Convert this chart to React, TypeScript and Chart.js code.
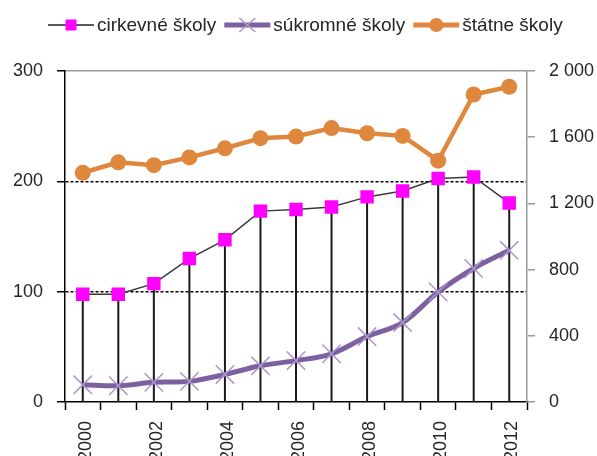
import React, { useEffect, useRef } from 'react';
import { Chart, registerables } from 'chart.js';

Chart.register(...registerables);

const years = ['2000', '2001', '2002', '2003', '2004', '2005', '2006', '2007', '2008', '2009', '2010', '2011', '2012'];
const cirkevne = [97.6, 97.6, 107.3, 130, 147, 173, 174.4, 176.8, 185.9, 191.3, 202.5, 204, 180.4];
const sukromne = [15.6, 14.7, 17.8, 18.7, 25, 32.8, 37.5, 43.7, 59.3, 72, 99.7, 121, 137.5];
const statne = [1385, 1448, 1431, 1478, 1533, 1594, 1604, 1655, 1624, 1608, 1458, 1858, 1905];
const seriesLabels = ['cirkevné školy', 'súkromné školy', 'štátne školy'];
const leftMax = 300;
const leftStep = 100;
const rightMax = 2000;
const rightStep = 400;

const FONT = '"Liberation Sans", Arial, sans-serif';
const MAGENTA = '#FF00FF';
const PURPLE = '#7D60A0';
const PURPLE_LIGHT = '#A996CC';
const ORANGE = '#DF873D';

function fmtThousands(v: number): string {
  if (v >= 1000) {
    const th = Math.floor(v / 1000);
    const rest = String(v % 1000).padStart(3, '0');
    return th + ' ' + rest;
  }
  return String(v);
}

const dropLines = {
  id: 'dropLines',
  beforeDatasetsDraw(chart: any) {
    const meta = chart.getDatasetMeta(0);
    const y0 = chart.scales.y.getPixelForValue(0);
    const ctx = chart.ctx;
    ctx.save();
    ctx.strokeStyle = '#1a1a1a';
    ctx.lineWidth = 2;
    meta.data.forEach((pt: any) => {
      ctx.beginPath();
      ctx.moveTo(pt.x, pt.y);
      ctx.lineTo(pt.x, y0);
      ctx.stroke();
    });
    ctx.restore();
  },
};

const customLegend = {
  id: 'customLegend',
  afterDraw(chart: any) {
    const ctx = chart.ctx;
    const ds = chart.data.datasets;
    const y = 25;
    let x = 48;
    const sampleLen = 46;
    ctx.save();
    ctx.font = '19px ' + FONT;
    ctx.textBaseline = 'middle';
    ds.forEach((d: any, i: number) => {
      const cx = x + sampleLen / 2;
      ctx.beginPath();
      ctx.strokeStyle = i === 0 ? '#222' : d.borderColor;
      ctx.lineWidth = i === 0 ? 1.5 : 5;
      ctx.moveTo(x, y);
      ctx.lineTo(x + sampleLen, y);
      ctx.stroke();
      if (i === 0) {
        ctx.fillStyle = MAGENTA;
        ctx.fillRect(cx - 5.5, y - 5.5, 11, 11);
      } else if (i === 1) {
        ctx.strokeStyle = PURPLE_LIGHT;
        ctx.lineWidth = 1.5;
        ctx.beginPath();
        ctx.moveTo(cx - 8, y - 7);
        ctx.lineTo(cx + 8, y + 7);
        ctx.moveTo(cx - 8, y + 7);
        ctx.lineTo(cx + 8, y - 7);
        ctx.stroke();
      } else {
        ctx.fillStyle = ORANGE;
        ctx.beginPath();
        ctx.arc(cx, y, 7, 0, Math.PI * 2);
        ctx.fill();
      }
      ctx.fillStyle = '#262626';
      const tx = x + sampleLen + 3;
      ctx.fillText(d.label, tx, y + 1);
      x = tx + ctx.measureText(d.label).width + 8;
    });
    ctx.restore();
  },
};

export default function App() {
  const ref = useRef<HTMLCanvasElement | null>(null);

  useEffect(() => {
    if (!ref.current) return;
    Chart.defaults.font.family = FONT;
    const chart = new Chart(ref.current, {
      type: 'line',
      data: {
        labels: years,
        datasets: [
          {
            label: seriesLabels[0],
            data: cirkevne,
            yAxisID: 'y',
            borderColor: '#3a3a3a',
            borderWidth: 1.5,
            pointStyle: 'rect',
            pointRadius: 9.5,
            pointBackgroundColor: MAGENTA,
            pointBorderColor: MAGENTA,
            pointBorderWidth: 0,
            tension: 0,
          },
          {
            label: seriesLabels[1],
            data: sukromne,
            yAxisID: 'y',
            borderColor: PURPLE,
            borderWidth: 5,
            pointStyle: 'crossRot',
            pointRadius: 13,
            pointBorderColor: PURPLE_LIGHT,
            pointBorderWidth: 1.5,
            tension: 0.35,
          },
          {
            label: seriesLabels[2],
            data: statne,
            yAxisID: 'y1',
            borderColor: ORANGE,
            borderWidth: 4.5,
            pointStyle: 'circle',
            pointRadius: 8,
            pointBackgroundColor: ORANGE,
            pointBorderColor: ORANGE,
            pointBorderWidth: 0,
            tension: 0,
          },
        ],
      },
      options: {
        animation: false,
        responsive: true,
        maintainAspectRatio: false,
        devicePixelRatio: 1,
        layout: { padding: { top: 71, left: 0, right: 0, bottom: 0 } },
        plugins: {
          legend: { display: false },
          tooltip: { enabled: false },
        },
        scales: {
          x: {
            type: 'category',
            offset: true,
            afterFit: (s: any) => { s.height = 54; },
            grid: {
              offset: true,
              drawOnChartArea: false,
              drawTicks: true,
              tickLength: 8,
              tickColor: '#000',
              tickWidth: 1.5,
            },
            border: { color: '#000', width: 1.5 },
            ticks: {
              autoSkip: false,
              minRotation: 90,
              maxRotation: 90,
              padding: 11,
              labelOffset: 3,
              color: '#262626',
              font: { size: 18, family: FONT },
              callback: (_v: any, i: number) => (i % 2 === 0 ? years[i] : ''),
            },
          },
          y: {
            position: 'left',
            min: 0,
            max: leftMax,
            afterFit: (s: any) => { s.width = 65; },
            grid: {
              color: (c: any) => (c.tick && (c.tick.value === 100 || c.tick.value === 200) ? '#000' : 'rgba(0,0,0,0)'),
              lineWidth: 1.5,
              tickLength: 8,
              tickColor: '#000',
              tickWidth: 1.5,
            },
            border: { color: '#000', width: 1.5, dash: [3, 2] },
            ticks: {
              stepSize: leftStep,
              padding: 14,
              color: '#262626',
              font: { size: 18, family: FONT },
            },
          },
          y1: {
            position: 'right',
            min: 0,
            max: rightMax,
            afterFit: (s: any) => { s.width = 70; },
            grid: {
              color: (c: any) => (c.tick && c.tick.value === rightMax ? '#9a9a9a' : 'rgba(0,0,0,0)'),
              lineWidth: 1.5,
              tickLength: 8,
              tickColor: '#9a9a9a',
              tickWidth: 1.5,
            },
            border: { color: '#9a9a9a', width: 1.5 },
            ticks: {
              stepSize: rightStep,
              padding: 14,
              color: '#262626',
              font: { size: 18, family: FONT },
              callback: (v: any) => fmtThousands(Number(v)),
            },
          },
        },
      },
      plugins: [dropLines, customLegend],
    } as any);
    return () => chart.destroy();
  }, []);

  return (
    <div style={{ position: 'fixed', left: 0, top: 0, width: 597, height: 456, background: '#fff' }}>
      <canvas ref={ref} />
    </div>
  );
}
